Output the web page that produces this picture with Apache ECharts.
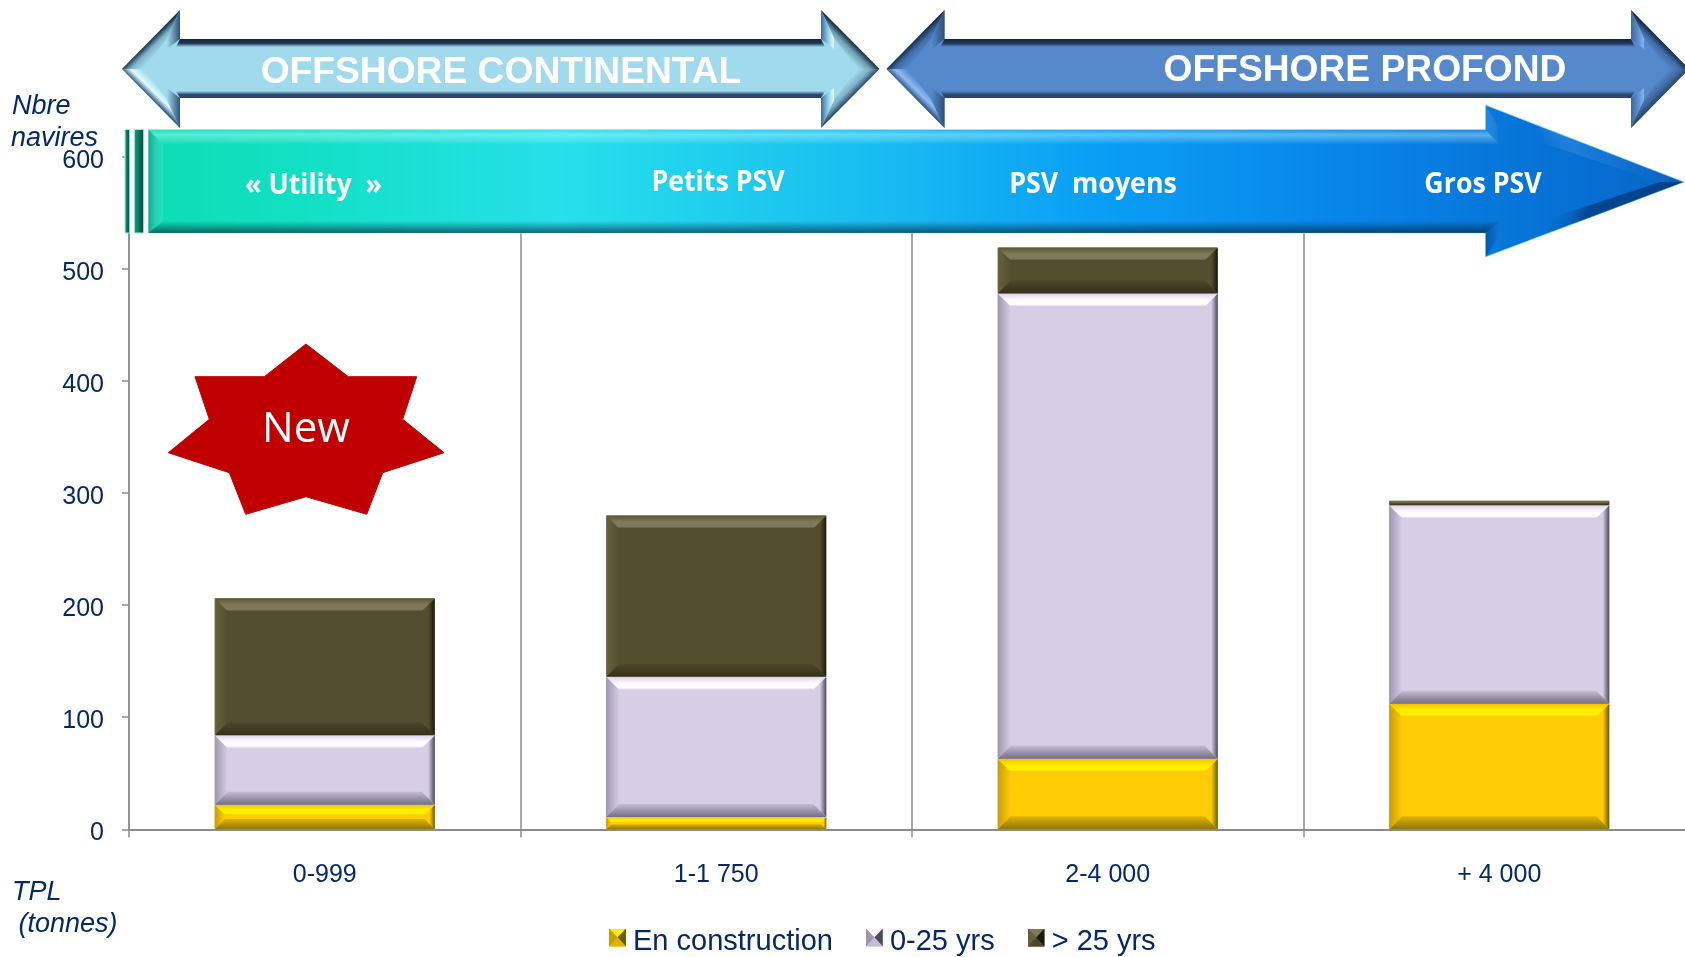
<!DOCTYPE html>
<html><head><meta charset="utf-8">
<style>html,body{margin:0;padding:0;background:#fff}#c{width:1685px;height:957px}</style>
<script src="https://cdn.jsdelivr.net/npm/echarts@6/dist/echarts.min.js"></script>
</head><body><div id="c"></div>
<script>
// ---- data ----
const categories = ['0-999', '1-1 750', '2-4 000', '+ 4 000'];
const enConstruction = [22, 11, 63, 112];
const young = [62, 125, 415, 177];
const old = [122, 144, 41, 4];
const yTicks = {min: 0, max: 600, interval: 100};

// ---- styling ----
const NAVY = '#04296B';
const BAR_W = 220;
const lg = (x, y, x2, y2, stops) => ({type: 'linear', x, y, x2, y2,
  colorStops: stops.map(([offset, color]) => ({offset, color}))});
const palette = [
  {base: '#FFCC06', top: ['#F5C000', '#FFEE00'], bot: ['#E0B406', '#8F7508'], l: ['#C79E08', '#FFCC06'], r: ['#FFCC06', '#6E5A08'], edge: '#C4B27A'},
  {base: '#D7CEE6', top: ['#DDD3EE', '#FFFBFF'], bot: ['#C4BCD2', '#746E86'], l: ['#9C96AE', '#D7CEE6'], r: ['#D7CEE6', '#4C4960'], edge: '#A9A5B3'},
  {base: '#534E2E', top: ['#5A5634', '#7F7B5A'], bot: ['#4D482A', '#34311B'], l: ['#66623F', '#534E2E'], r: ['#534E2E', '#1B190C'], edge: '#8E8C78'}
];
const names = ['En construction', '0-25 yrs', '> 25 yrs'];
const valueSets = [enConstruction, young, old];

// ---- legend icons: small pyramid-like squares, in the upper part of a taller transparent image ----
function icon(p) {
  const svg = `<svg xmlns="http://www.w3.org/2000/svg" width="17" height="26" viewBox="0 0 17 26"><rect width="17" height="18" fill="${p.base}"/>` +
    `<polygon points="0,0 17,0 8.5,9" fill="${p.top[1]}"/><polygon points="17,0 17,18 8.5,9" fill="${p.r[1]}"/>` +
    `<polygon points="0,18 17,18 8.5,9" fill="${p.bot[0]}"/><polygon points="0,0 0,18 8.5,9" fill="${p.l[0]}"/></svg>`;
  return 'image://data:image/svg+xml;charset=utf-8,' + encodeURIComponent(svg);
}

// ---- bevel overlay, placed through the chart's scales ----
const bevelData = [];
categories.forEach((_, c) => {
  let s = 0;
  valueSets.forEach((vals, k) => { bevelData.push([c, s, s + vals[c], k]); s += vals[c]; });
});
function renderBevel(params, api) {
  const a = api.coord([api.value(0), api.value(1)]);
  const b = api.coord([api.value(0), api.value(2)]);
  const p = palette[api.value(3)];
  const x0 = a[0] - BAR_W / 2, x1 = a[0] + BAR_W / 2, y1 = a[1], y0 = b[1];
  const h = y1 - y0;
  const t = Math.min(13, h / 2.4);
  const poly = (points, fill) => ({type: 'polygon', shape: {points}, style: {fill}, silent: true});
  return {type: 'group', children: [
    poly([[x0, y0], [x0 + t, y0 + t], [x0 + t, y1 - t], [x0, y1]], lg(0, 0, 1, 0, [[0, p.l[0]], [1, p.l[1]]])),
    poly([[x1, y0], [x1 - t, y0 + t], [x1 - t, y1 - t], [x1, y1]], lg(0, 0, 1, 0, [[0, p.r[0]], [0.5, p.r[0]], [1, p.r[1]]])),
    poly([[x0, y0], [x1, y0], [x1 - t, y0 + t], [x0 + t, y0 + t]], lg(0, 0, 0, 1, [[0, p.top[0]], [0.5, p.top[1]], [0.85, p.top[1]], [1, p.base]])),
    poly([[x0, y1], [x1, y1], [x1 - t, y1 - t], [x0 + t, y1 - t]], lg(0, 0, 0, 1, [[0, p.bot[0]], [1, p.bot[1]]]))
  ]};
}

// ---- annotation shapes ----
const deco = [];
const poly = (points, fill, extra) => deco.push(Object.assign({type: 'polygon', silent: true, z: 100, shape: {points}, style: Object.assign({fill}, extra || {})}));
const text = (t, x, y, font, fill, opt) => deco.push(Object.assign({type: 'text', silent: true, z: 110, x, y, style: {text: t, font, fill, align: (opt && opt.align) || 'center', verticalAlign: 'middle'}}, opt && opt.scaleX ? {scaleX: opt.scaleX} : {}));

function doubleArrow(xl, hl, hr, xr, c) {
  const T = 10, S = 39, SB = 98, B = 128, M = 69;
  const facet = (d, mid) => [[0, d], [0.5, d], [0.58, mid], [0.68, c.main], [1, c.main]];
  poly([[xl, M], [hl, T], [hl, S], [hr, S], [hr, T], [xr, M], [hr, B], [hr, SB], [hl, SB], [hl, B]], c.main);
  // shaft bands
  poly([[hl, S], [hr, S], [hr + 4, S + 8], [hl - 4, S + 8]], lg(0, 0, 0, 1, [[0, '#14233A'], [0.55, c.navy], [1, c.main]]));
  poly([[hl, SB], [hr, SB], [hr + 4, SB - 7], [hl - 4, SB - 7]], lg(0, 0, 0, 1, [[0, c.main], [0.5, '#2C4A72'], [1, '#2A4468']]));
  // right head
  poly([[hr, T], [xr, M], [xr - 22, M], [hr + 13, T + 28]], lg(1, 0, 0, 1, facet('#15263C', c.shadeT)));
  poly([[hr, B], [xr, M], [xr - 22, M], [hr + 13, B - 28]], lg(1, 1, 0, 0, facet('#2A4668', c.shadeB)));
  poly([[hr, T], [hr + 13, T + 28], [hr + 13, S + 10], [hr, S]], lg(0, 0, 1, 0, [[0, '#3F679B'], [0.55, c.hiR], [1, c.hiR2]]));
  poly([[hr, B], [hr + 13, B - 28], [hr + 13, SB - 10], [hr, SB]], lg(0, 0, 1, 0, [[0, '#3F679B'], [0.55, c.hiR], [1, c.hiR2]]));
  // left head
  poly([[hl, T], [xl, M], [xl + 22, M], [hl - 13, T + 28]], lg(0, 0, 1, 1, facet('#1B2E48', c.shadeL)));
  poly([[hl, B], [xl, M], [xl + 22, M], [hl - 13, B - 28]], lg(0, 1, 1, 0, facet('#2E5682', c.hiL)));
  poly([[hl, T], [hl - 13, T + 28], [hl - 13, S + 10], [hl, S]], lg(0, 0, 1, 0, [[0, c.main], [1, '#2E4F78']]));
  poly([[hl, B], [hl - 13, B - 28], [hl - 13, SB - 10], [hl, SB]], lg(0, 0, 1, 0, [[0, c.main], [1, '#2E4F78']]));
}
doubleArrow(122, 180, 821, 879.5, {main: '#A0DAEC', navy: '#223A58', shadeT: '#6F9FB5', shadeB: '#7FB0C6', shadeL: '#7FB3C8', hiR: '#8FD0E4', hiR2: '#E4FFFF', hiL: '#DDFBFF'});
doubleArrow(886.5, 944.5, 1631, 1689, {main: '#5589CB', navy: '#223A58', shadeT: '#3F6DA8', shadeB: '#3F6DA8', shadeL: '#3F6DA8', hiR: '#5C8FD0', hiR2: '#86B6F2', hiL: '#8FBBF5'});

// big graded arrow
const RT = 129.5, RB = 233, HX = 1485.5, HT = 105, HB = 257, TIP = 1684, MID = 182;
const grad = [[0, '#0CDDB2'], [0.1, '#12E0C4'], [0.27, '#26DFEA'], [0.47, '#18BDF0'], [0.62, '#0A9EF5'], [0.8, '#0882E6'], [1, '#0666C8']];
[[125, 129.7], [134.3, 143.7]].forEach(([a, b]) => {
  poly([[a, RT], [b, RT], [b, RB], [a, RB]], lg(0, 0, 1, 0, [[0, '#0FA884'], [0.4, '#0B7F66'], [1, '#034036']]), {stroke: '#A6EDE0', lineWidth: 1});
});
poly([[148.3, RT], [HX, RT], [HX, HT], [TIP, MID], [HX, HB], [HX, RB], [148.3, RB]], lg(0, 0, 1, 0, grad), {stroke: 'rgba(150,235,240,.75)', lineWidth: 1});
poly([[148.3, RT], [HX, RT], [HX + 14, RT + 15], [163, RT + 15]], lg(0, 0, 0, 1, [[0, 'rgba(255,255,255,.05)'], [0.35, 'rgba(190,255,255,.42)'], [1, 'rgba(255,255,255,0)']]));
poly([[148.3, RB], [HX, RB], [HX + 14, RB - 12], [163, RB - 12]], lg(0, 0, 0, 1, [[0, 'rgba(0,30,50,0)'], [1, 'rgba(0,30,50,.62)']]));
poly([[148.3, RT], [163, RT + 15], [163, RB - 12], [148.3, RB]], lg(0, 0, 1, 0, [[0, 'rgba(0,70,70,.35)'], [1, 'rgba(255,255,255,.08)']]));
poly([[HX, HT], [TIP, MID], [TIP - 24, MID], [HX + 14, HT + 24]], lg(1, 0, 0, 1, [[0, 'rgba(0,50,130,.25)'], [0.5, 'rgba(70,150,240,.28)'], [0.68, 'rgba(255,255,255,0)']]));
poly([[HX, HB], [TIP, MID], [TIP - 24, MID], [HX + 14, HB - 22]], lg(1, 1, 0, 0, [[0, 'rgba(0,25,70,.5)'], [0.5, 'rgba(0,25,70,.45)'], [0.57, 'rgba(0,25,70,.14)'], [0.66, 'rgba(0,25,70,0)']]));
poly([[HX, HT], [HX + 14, HT + 24], [HX + 14, RT + 15], [HX, RT]], lg(0, 0, 1, 0, [[0, 'rgba(70,150,240,.3)'], [1, 'rgba(255,255,255,0)']]));
poly([[HX, HB], [HX + 14, HB - 22], [HX + 14, RB - 12], [HX, RB]], lg(0, 0, 1, 0, [[0, 'rgba(0,25,70,.35)'], [1, 'rgba(0,25,70,0)']]));

// star
poly([[306, 344], [348.3, 376.7], [416.7, 376.7], [402.7, 419.3], [444, 452.7], [382.7, 472.7], [366.7, 514.3], [306, 496.7],
      [245.7, 514.3], [229.3, 472.7], [168.3, 452.7], [209.3, 419.3], [195, 376.7], [264.3, 376.7]], '#C00000', {stroke: '#C00000', lineWidth: 1, lineJoin: 'round'});

// texts
const ARIAL = '"Liberation Sans", Arial, sans-serif';
text('OFFSHORE CONTINENTAL', 501, 73, `bold 37px ${ARIAL}`, '#fff', {scaleX: 1.005});
text('OFFSHORE PROFOND', 1365, 71, `bold 37px ${ARIAL}`, '#fff', {scaleX: 1.005});
const NOTO = '"Open Sans", "Noto Sans", sans-serif';
text('« Utility  »', 313.5, 186, `bold 29px ${NOTO}`, '#fff', {scaleX: 0.923});
text('Petits PSV', 718, 183, `bold 29px ${NOTO}`, '#fff', {scaleX: 0.923});
text('PSV  moyens', 1093, 185, `bold 29px ${NOTO}`, '#fff', {scaleX: 0.923});
text('Gros PSV', 1483, 185, `bold 29px ${NOTO}`, '#fff', {scaleX: 0.923});
text('New', 306, 430, `42px ${NOTO}`, '#fff');
text('Nbre', 12, 106, `italic 27px ${ARIAL}`, NAVY, {align: 'left'});
text('navires', 11, 138, `italic 27px ${ARIAL}`, NAVY, {align: 'left'});
text('TPL', 12, 892, `italic 27px ${ARIAL}`, NAVY, {align: 'left'});
text('(tonnes)', 18.5, 924, `italic 27px ${ARIAL}`, NAVY, {align: 'left'});

const AXIS = '#8C8C8C';
const option = {
  animation: false,
  backgroundColor: '#fff',
  textStyle: {fontFamily: ARIAL},
  grid: {left: 129, top: 156.7, right: -10, height: 672.6, containLabel: false, outerBoundsMode: 'none'},
  xAxis: {
    type: 'category', data: categories,
    axisLine: {show: true, lineStyle: {color: AXIS, width: 2}},
    axisTick: {show: true, length: 8, lineStyle: {color: AXIS, width: 1.5}},
    axisLabel: {color: NAVY, fontSize: 25, margin: 33, fontFamily: ARIAL},
    splitLine: {show: true, lineStyle: {color: AXIS, width: 1.5}}
  },
  yAxis: {
    type: 'value', min: yTicks.min, max: yTicks.max, interval: yTicks.interval,
    axisLine: {show: true, lineStyle: {color: AXIS, width: 1.5}},
    axisTick: {show: true, length: 7, lineStyle: {color: AXIS, width: 1.5}},
    axisLabel: {color: NAVY, fontSize: 25, margin: 25, fontFamily: ARIAL, verticalAlign: 'top', lineHeight: 8},
    splitLine: {show: false}
  },
  legend: {
    left: 609, top: 927, padding: 0, itemWidth: 17, itemHeight: 26, itemGap: 33,
    textStyle: {color: NAVY, fontSize: 29, fontFamily: ARIAL, padding: [0, 0, 0, 2]},
    data: names.map((name, i) => ({name, icon: icon(palette[i])}))
  },
  series: [
    ...valueSets.map((vals, i) => ({
      name: names[i], type: 'bar', stack: 'total', data: vals, barWidth: BAR_W,
      itemStyle: {color: palette[i].base, borderColor: palette[i].edge, borderWidth: 1}, z: 2
    })),
    {type: 'custom', name: 'bevel', renderItem: renderBevel, data: bevelData, silent: true, z: 3, clip: false,
     encode: {x: 0, y: [1, 2]}, tooltip: {show: false}}
  ],
  graphic: {elements: deco}
};
const chart = echarts.init(document.getElementById('c'), null, {renderer: 'canvas'});
chart.setOption(option);
</script>
</body></html>
